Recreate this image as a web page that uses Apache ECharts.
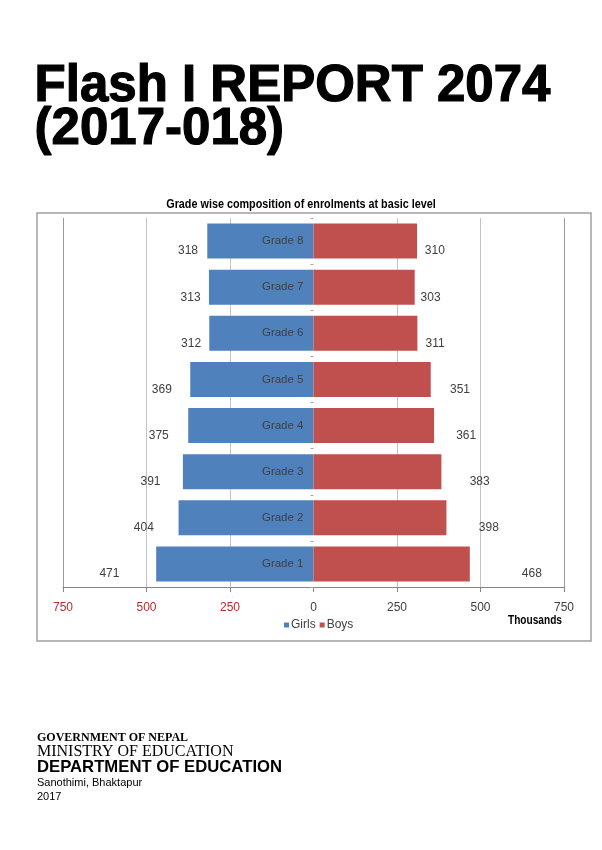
<!DOCTYPE html>
<html>
<head>
<meta charset="utf-8">
<script src="https://cdn.jsdelivr.net/npm/echarts@6/dist/echarts.min.js"></script>
<style>
  html, body { margin: 0; padding: 0; background: #fff; }
  #chart { width: 602px; height: 850px; }
</style>
</head>
<body>
<div id="chart"></div>
<script>
var grades = ['Grade 1', 'Grade 2', 'Grade 3', 'Grade 4', 'Grade 5', 'Grade 6', 'Grade 7', 'Grade 8'];
var girls = [471, 404, 391, 375, 369, 312, 313, 318];
var boys = [468, 398, 383, 361, 351, 311, 303, 310];

var sans = "'Liberation Sans', Arial, sans-serif";
var serif = "'Liberation Serif', 'Times New Roman', serif";
var gridLeft = 63;

var chart = echarts.init(document.getElementById('chart'));

// excel put the value labels further out on the longer bars
var girlsData = girls.map(function (v) {
    return { value: -v, label: { distance: 6 + (v - 300) * 0.18 } };
});
var boysData = boys.map(function (v) {
    return { value: v, label: { distance: 5 + (v - 300) * 0.28 } };
});

var option = {
    animation: false,
    backgroundColor: '#fff',
    legend: {
        data: ['Girls', 'Boys'],
        left: 279,
        top: 614,
        icon: 'rect',
        itemWidth: 5,
        itemHeight: 5,
        itemGap: 4,
        textStyle: { fontFamily: sans, fontSize: 12, color: '#404040', padding: [0, 0, 0, -3] }
    },
    grid: { left: gridLeft, right: 38, top: 218, bottom: 263 },
    xAxis: {
        type: 'value',
        min: -750,
        max: 750,
        interval: 250,
        axisLine: { show: true, onZero: false, lineStyle: { color: '#868686' } },
        axisTick: { show: true, length: 5, lineStyle: { color: '#868686' } },
        axisLabel: {
            margin: 15,
            fontFamily: sans,
            fontSize: 12,
            color: function (v) { return v < 0 ? '#c0282d' : '#404040'; },
            formatter: function (v) { return Math.abs(v); }
        },
        splitLine: {
            show: true,
            lineStyle: { color: ['#999999', '#c4c4c4', '#c4c4c4', '#ffffff', '#c4c4c4', '#c4c4c4', '#999999'] }
        }
    },
    yAxis: {
        type: 'category',
        data: grades,
        z: 5,
        axisLine: { show: true, onZero: false, lineStyle: { opacity: 0 } },
        axisTick: { show: true, length: 3, lineStyle: { color: '#a6a6a6' } },
        axisLabel: { margin: 10, fontFamily: sans, fontSize: 11.5, color: '#404040' }
    },
    series: [
        {
            name: 'Girls',
            type: 'bar',
            stack: 'total',
            barWidth: '76%',
            itemStyle: { color: '#4f81bd' },
            label: {
                show: true,
                position: 'left',
                offset: [0, 10],
                fontFamily: sans,
                fontSize: 12,
                color: '#404040',
                formatter: function (p) { return Math.abs(p.value); }
            },
            data: girlsData
        },
        {
            name: 'Boys',
            type: 'bar',
            stack: 'total',
            barWidth: '76%',
            itemStyle: { color: '#c0504d' },
            label: {
                show: true,
                position: 'right',
                offset: [0, 10],
                fontFamily: sans,
                fontSize: 12,
                color: '#404040'
            },
            data: boysData
        }
    ],
    graphic: [
        {
            type: 'rect', z: -10, silent: true,
            shape: { x: 37, y: 213, width: 554, height: 428 },
            style: { fill: '#fff', stroke: '#a0a0a0', lineWidth: 1.5 }
        },
        {
            type: 'text', x: 301, y: 205, scaleX: 0.9,
            style: {
                text: 'Grade wise composition of enrolments at basic level',
                align: 'center', verticalAlign: 'middle',
                fontFamily: sans, fontSize: 12, fontWeight: 'bold', fill: '#000'
            }
        },
        {
            type: 'text', x: 508, y: 621, scaleX: 0.81,
            style: { text: 'Thousands', verticalAlign: 'middle', fontFamily: sans, fontSize: 12.5, fontWeight: 'bold', fill: '#000' }
        },
        {
            type: 'text', left: 34, top: 61,
            style: { text: 'Flash I REPORT 2074', fontFamily: sans, fontSize: 51, fontWeight: 'bold', fill: '#000', stroke: '#000', lineWidth: 1.2 }
        },
        {
            type: 'text', left: 34, top: 104,
            style: { text: '(2017-018)', fontFamily: sans, fontSize: 51, fontWeight: 'bold', fill: '#000', stroke: '#000', lineWidth: 1.2 }
        },
        {
            type: 'text', left: 37, top: 732,
            style: { text: 'GOVERNMENT OF NEPAL', fontFamily: serif, fontSize: 12, fontWeight: 'bold', fill: '#000' }
        },
        {
            type: 'text', left: 37, top: 744,
            style: { text: 'MINISTRY OF EDUCATION', fontFamily: serif, fontSize: 16, fill: '#000' }
        },
        {
            type: 'text', left: 37, top: 759,
            style: { text: 'DEPARTMENT OF EDUCATION', fontFamily: sans, fontSize: 16.7, fontWeight: 'bold', fill: '#000' }
        },
        {
            type: 'text', left: 37, top: 777,
            style: { text: 'Sanothimi, Bhaktapur', fontFamily: sans, fontSize: 11, fill: '#000' }
        },
        {
            type: 'text', left: 37, top: 791,
            style: { text: '2017', fontFamily: sans, fontSize: 11, fill: '#000' }
        }
    ]
};
chart.setOption(option);

// grade names sit on the zero line, so shift the category axis there
var zeroX = chart.convertToPixel({ xAxisIndex: 0 }, 0);
chart.setOption({ yAxis: { offset: gridLeft - zeroX } });
</script>
</body>
</html>
